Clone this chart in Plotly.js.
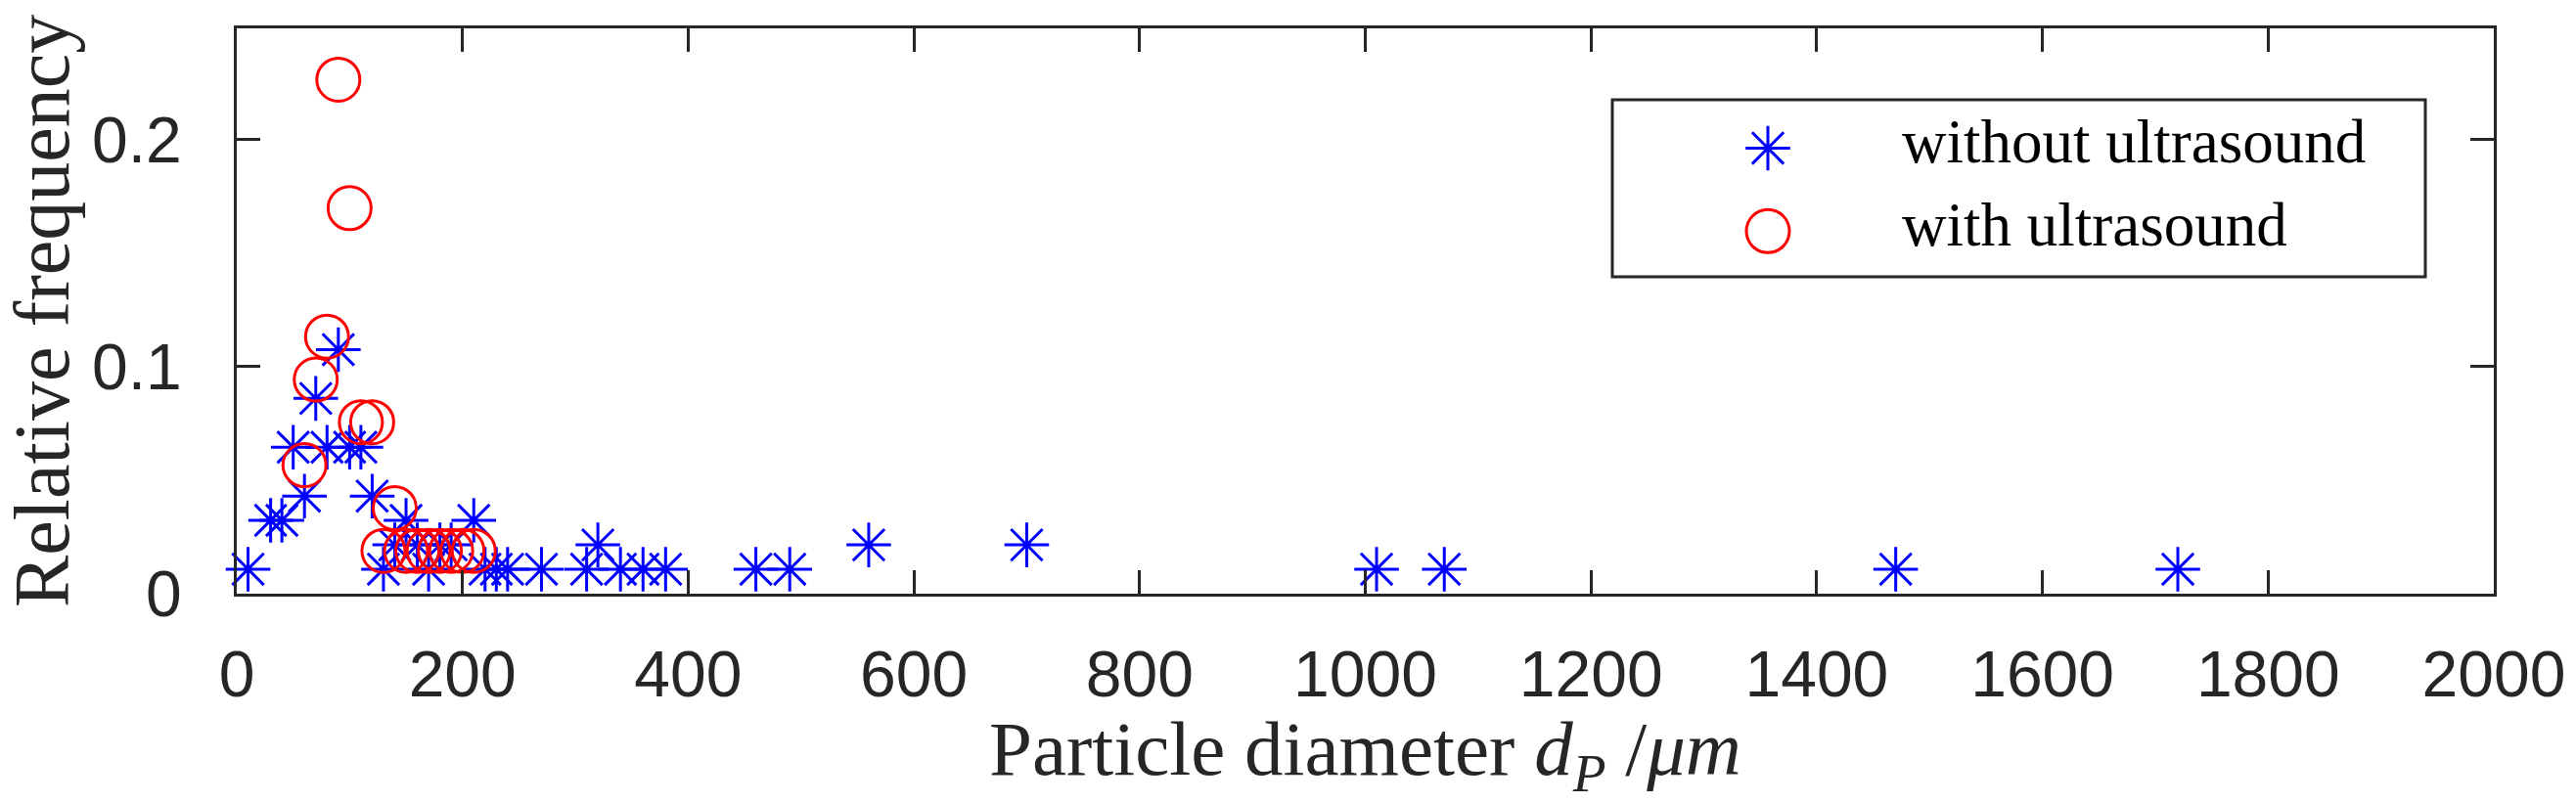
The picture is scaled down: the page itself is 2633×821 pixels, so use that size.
<!DOCTYPE html>
<html>
<head>
<meta charset="utf-8">
<script src="https://cdn.plot.ly/plotly-3.0.1.min.js"></script>
<style>
  html, body { margin: 0; padding: 0; background: #ffffff; }
  #chart { width: 2633px; height: 821px; }
</style>
</head>
<body>
<div id="chart"></div>
<script>
// Particle diameter (µm) and relative frequency, without ultrasound
var diamWithout = [10, 30, 40, 50, 60, 70, 80, 90, 100, 110, 120, 130, 140, 150, 160, 170, 180, 190,
                   210, 220, 230, 240, 270, 310, 320, 340, 360, 380, 460, 490, 560, 700, 1010, 1070, 1470, 1720];
var freqWithout = [0.0108, 0.0323, 0.0323, 0.0645, 0.0430, 0.0860, 0.0645, 0.1075, 0.0645, 0.0645, 0.0430, 0.0108,
                   0.0215, 0.0323, 0.0215, 0.0108, 0.0215, 0.0215,
                   0.0323, 0.0108, 0.0108, 0.0108, 0.0108, 0.0108, 0.0215, 0.0108, 0.0108, 0.0108, 0.0108, 0.0108,
                   0.0215, 0.0215, 0.0108, 0.0108, 0.0108, 0.0108];

// Particle diameter (µm) and relative frequency, with ultrasound
var diamWith = [60, 70, 80, 90, 100, 110, 120, 130, 140, 150, 160, 170, 180, 190, 200, 210];
var freqWith = [0.0566, 0.0943, 0.1132, 0.2264, 0.1698, 0.0755, 0.0755, 0.0189, 0.0377,
                0.0189, 0.0189, 0.0189, 0.0189, 0.0189, 0.0189, 0.0189];

var seriesNames = ['without ultrasound', 'with ultrasound'];
var xTicks = [0, 200, 400, 600, 800, 1000, 1200, 1400, 1600, 1800, 2000];
var yTicks = [0, 0.1, 0.2];
var yTickLabels = ['0', '0.1', '0.2'];

var axisColor = '#262626';

var traces = [
  {
    x: diamWithout, y: freqWithout, type: 'scatter', mode: 'markers', name: seriesNames[0],
    cliponaxis: false,
    marker: { symbol: 'asterisk-open', size: 38, color: '#0000ff',
              line: { color: '#0000ff', width: 3 } }
  },
  {
    x: diamWith, y: freqWith, type: 'scatter', mode: 'markers', name: seriesNames[1],
    cliponaxis: false,
    marker: { symbol: 'circle-open', size: 44, color: '#ff0000',
              line: { color: '#ff0000', width: 3 } }
  }
];

var L = 242, R = 84, T = 29, B = 214, W = 2633, H = 821;
var pw = W - L - R, ph = H - T - B;
function px2x(p) { return (p - L) / pw; }
function px2y(p) { return (H - B - p) / ph; }

var layout = {
  width: W, height: H,
  margin: { l: L, r: R, t: T, b: B, pad: 0 },
  paper_bgcolor: '#ffffff',
  plot_bgcolor: '#ffffff',
  showlegend: true,
  xaxis: {
    range: [0, 2000],
    tickmode: 'array', tickvals: xTicks,
    ticks: 'inside', ticklen: 24, tickwidth: 3, tickcolor: axisColor,
    showline: true, linecolor: axisColor, linewidth: 3, mirror: 'ticks',
    showgrid: false, zeroline: false,
    ticklabelstandoff: 23,
    tickfont: { family: 'Liberation Sans, Arial, sans-serif', size: 66, color: axisColor }
  },
  yaxis: {
    range: [0, 0.249],
    tickmode: 'array', tickvals: yTicks, ticktext: yTickLabels,
    ticks: 'inside', ticklen: 24, tickwidth: 3, tickcolor: axisColor,
    showline: true, linecolor: axisColor, linewidth: 3, mirror: 'ticks',
    showgrid: false, zeroline: false,
    ticklabelstandoff: 40,
    tickfont: { family: 'Liberation Sans, Arial, sans-serif', size: 66, color: axisColor }
  },
  legend: {
    x: px2x(1670), xanchor: 'left', xref: 'paper',
    y: px2y(94), yanchor: 'top', yref: 'paper',
    itemwidth: 264,
    bgcolor: 'rgba(0,0,0,0)', borderwidth: 0,
    font: { family: 'Liberation Serif, Times New Roman, serif', size: 63, color: '#000000' }
  },
  shapes: [
    { type: 'rect', xref: 'paper', yref: 'paper', layer: 'above',
      x0: px2x(1648), x1: px2x(2479), y0: px2y(283), y1: px2y(102),
      line: { color: axisColor, width: 3 }, fillcolor: 'rgba(0,0,0,0)' }
  ],
  annotations: [
    { text: 'Particle diameter <i>d</i><sub><i>P</i></sub> /<i>μm</i>',
      xref: 'paper', yref: 'paper', x: 0.5, y: px2y(720), xanchor: 'center', yanchor: 'top',
      showarrow: false,
      font: { family: 'Liberation Serif, Times New Roman, serif', size: 79, color: axisColor } },
    { text: 'Relative frequency',
      xref: 'paper', yref: 'paper', x: px2x(43), y: 0.5, xanchor: 'center', yanchor: 'middle',
      textangle: -90, showarrow: false,
      font: { family: 'Liberation Serif, Times New Roman, serif', size: 80, color: axisColor } }
  ]
};

var gd = document.getElementById('chart');
Plotly.newPlot(gd, traces, layout, { staticPlot: true, displayModeBar: false }).then(function () {
  // enlarge legend symbols to match plotted marker sizes (legend caps them at 16px)
  var scales = [38 / 16, 44 / 16];
  gd.querySelectorAll('.legend .legendpoints path.scatterpts').forEach(function (p, i) {
    var t = p.getAttribute('transform') || '';
    p.setAttribute('transform', t + ' translate(0,10) scale(' + scales[Math.min(i, 1)] + ')');
    p.style.vectorEffect = 'non-scaling-stroke';
  });
});
</script>
</body>
</html>
